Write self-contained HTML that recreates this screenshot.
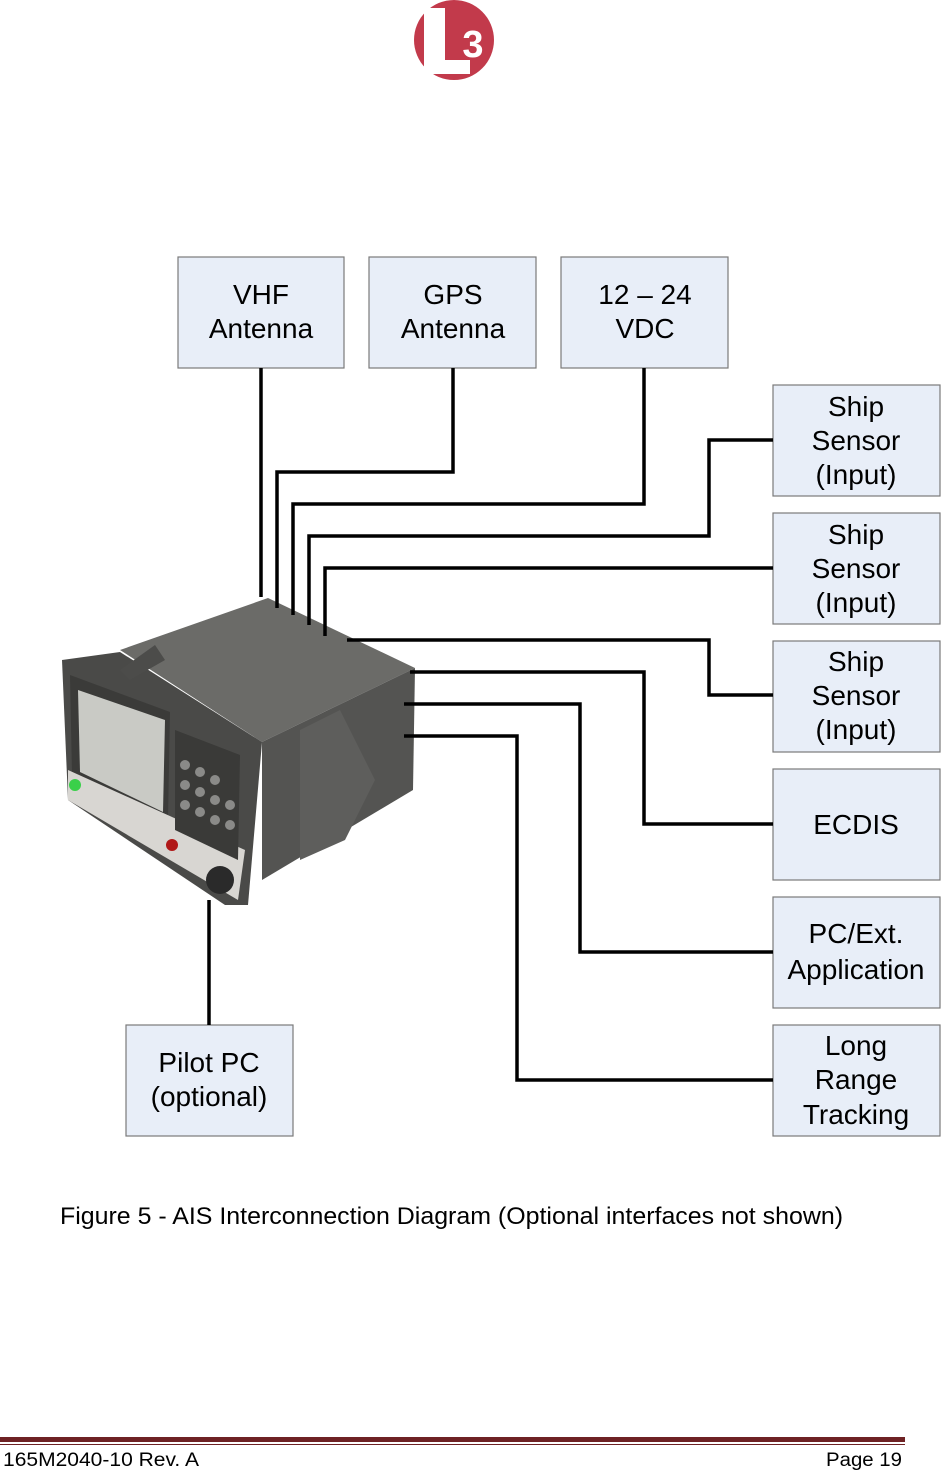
<!DOCTYPE html>
<html><head><meta charset="utf-8"><style>
html,body{margin:0;padding:0;background:#fff;}
svg{display:block}
text{font-family:"Liberation Sans",sans-serif;}
</style></head><body>
<svg width="941" height="1471" viewBox="0 0 941 1471" xmlns="http://www.w3.org/2000/svg">
<!-- logo -->
<circle cx="454" cy="40" r="40" fill="#c23a4b"/>
<polygon points="424,8 445,8 445,60 470,60 470,74 424,74" fill="#fff"/>
<text x="473" y="57" font-size="38" font-weight="bold" fill="#fff" text-anchor="middle">3</text>

<g fill="#e8eef8" stroke="#7a7a7a" stroke-width="1.2">
<rect x="178" y="257" width="166" height="111"/>
<rect x="369" y="257" width="167" height="111"/>
<rect x="561" y="257" width="167" height="111"/>
<rect x="773" y="385" width="167" height="111"/>
<rect x="773" y="513" width="167" height="111"/>
<rect x="773" y="641" width="167" height="111"/>
<rect x="773" y="769" width="167" height="111"/>
<rect x="773" y="897" width="167" height="111"/>
<rect x="773" y="1025" width="167" height="111"/>
<rect x="126" y="1025" width="167" height="111"/>
</g>
<g font-size="28" fill="#000" text-anchor="middle">
<text x="261" y="304">VHF</text><text x="261" y="338">Antenna</text>
<text x="453" y="304">GPS</text><text x="453" y="338">Antenna</text>
<text x="645" y="304">12 – 24</text><text x="645" y="338">VDC</text>
<text x="856" y="416">Ship</text><text x="856" y="450">Sensor</text><text x="856" y="484">(Input)</text>
<text x="856" y="544">Ship</text><text x="856" y="578">Sensor</text><text x="856" y="612">(Input)</text>
<text x="856" y="671">Ship</text><text x="856" y="705">Sensor</text><text x="856" y="739">(Input)</text>
<text x="856" y="834">ECDIS</text>
<text x="856" y="943">PC/Ext.</text><text x="856" y="979">Application</text>
<text x="856" y="1055">Long</text><text x="856" y="1089">Range</text><text x="856" y="1124">Tracking</text>
<text x="209" y="1072">Pilot PC</text><text x="209" y="1106">(optional)</text>
</g>

<!-- device -->
<polygon points="120,650 268,598 415,668 262,742" fill="#6b6b68"/>
<polygon points="262,742 415,668 413,790 262,880" fill="#545452"/>
<polygon points="300,730 340,710 375,780 345,840 300,860" fill="#5e5e5c"/>
<polygon points="62,660 120,652 262,742 248,905 225,905 68,800" fill="#4a4a48"/>
<polygon points="70,675 170,712 168,820 72,775" fill="#3b3b39"/>
<polygon points="78,690 165,720 163,812 80,772" fill="#c9cac5"/>
<polygon points="68,770 245,850 238,900 68,800" fill="#d8d6d2"/>
<polygon points="175,730 240,755 238,860 175,830" fill="#3a3a38"/>
<circle cx="75" cy="785" r="6" fill="#3ad04a"/>
<circle cx="172" cy="845" r="6" fill="#b01818"/>
<circle cx="220" cy="880" r="14" fill="#2a2a2a"/>
<polygon points="120,670 155,645 165,660 130,680" fill="#4c4c4a"/>
<g fill="#8a8a88">
<circle cx="185" cy="765" r="5"/><circle cx="200" cy="772" r="5"/><circle cx="215" cy="780" r="5"/>
<circle cx="185" cy="785" r="5"/><circle cx="200" cy="792" r="5"/><circle cx="215" cy="800" r="5"/><circle cx="230" cy="805" r="5"/>
<circle cx="185" cy="805" r="5"/><circle cx="200" cy="812" r="5"/><circle cx="215" cy="820" r="5"/><circle cx="230" cy="825" r="5"/>
</g>

<!-- connectors -->
<g fill="none" stroke="#000" stroke-width="3.5">
<path d="M261 368V597"/>
<path d="M453 368V472H277V608"/>
<path d="M644 368V504H293V615"/>
<path d="M773 440H709V536H309V625"/>
<path d="M773 568H325V636"/>
<path d="M773 695H709V640H347"/>
<path d="M773 824H644V672H410"/>
<path d="M773 952H580V704H404"/>
<path d="M773 1080H517V736H404"/>
<path d="M209 1025V900"/>
</g>

<text x="60" y="1224" font-size="24" fill="#000" textLength="783" lengthAdjust="spacingAndGlyphs">Figure 5 - AIS Interconnection Diagram (Optional interfaces not shown)</text>

<rect x="0" y="1437" width="905" height="5" fill="#6e2224"/>
<rect x="0" y="1444" width="905" height="1" fill="#6e2224"/>
<text x="3" y="1466" font-size="19" fill="#000" textLength="196" lengthAdjust="spacingAndGlyphs">165M2040-10 Rev. A</text>
<text x="826" y="1466" font-size="19" fill="#000" textLength="76" lengthAdjust="spacingAndGlyphs">Page 19</text>
</svg>
</body></html>
